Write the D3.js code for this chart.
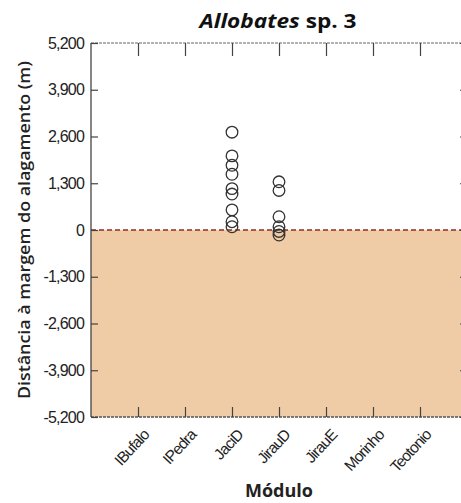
<!DOCTYPE html>
<html>
<head>
<meta charset="utf-8">
<script src="https://cdn.jsdelivr.net/npm/d3@7"></script>
<style>
  body { margin: 0; background: #fff; }
  svg { display: block; }
</style>
</head>
<body>
<svg id="chart"></svg>
<script>
// data
const modules = ["IBufalo", "IPedra", "JaciD", "JirauD", "JirauE", "Morinho", "Teotonio"]
const pointModules = ["JaciD", "JaciD", "JaciD", "JaciD", "JaciD", "JaciD", "JaciD", "JaciD", "JaciD",
                      "JirauD", "JirauD", "JirauD", "JirauD", "JirauD", "JirauD"]
const pointDistances = [2720, 2060, 1800, 1550, 1150, 1000, 560, 230, 90,
                        1340, 1100, 370, 90, -40, -140]
const yTicks = [-5200, -3900, -2600, -1300, 0, 1300, 2600, 3900, 5200]

// constants
const width = 461
const height = 503
const margin = {left: 91, top: 43, right: -6, bottom: 86}
const floodColour = "#efcca6"
const zeroColour = "#8e2b26"
const axisColour = "#444"
const tickFont = "Liberation Sans, Arial, sans-serif"
const labelFont = "Open Sans, Lato, sans-serif"

// plain hyphen for negatives, comma thousands
const fmt = d3.formatLocale({decimal: ".", thousands: ",", grouping: [3], currency: ["$", ""], minus: "-"}).format(",")

const svg = d3.select("#chart")
  .attr("width", width)
  .attr("height", height)

const x = d3.scaleLinear()
  .domain([0, modules.length + 1])
  .range([margin.left, width - margin.right])

const y = d3.scaleLinear()
  .domain([-5200, 5200])
  .range([height - margin.bottom, margin.top])

const x0 = x.range()[0], x1 = x.range()[1]
const yTop = y(5200), yBot = y(-5200)

// flooded area below zero
svg.append("rect")
  .attr("x", x0)
  .attr("y", y(0))
  .attr("width", x1 - x0)
  .attr("height", yBot - y(0))
  .attr("fill", floodColour)

// zero line
svg.append("line")
  .attr("x1", x0).attr("x2", x1)
  .attr("y1", y(0)).attr("y2", y(0))
  .attr("stroke", zeroColour)
  .attr("stroke-width", 1.6)
  .attr("stroke-dasharray", "5 3")

// frame
svg.append("line").attr("x1", x0).attr("x2", x1).attr("y1", yTop).attr("y2", yTop)
  .attr("stroke", "#666").attr("stroke-width", 1.2).attr("stroke-dasharray", "3 1")
svg.append("line").attr("x1", x0).attr("x2", x1).attr("y1", yBot).attr("y2", yBot)
  .attr("stroke", "#555").attr("stroke-width", 1.3).attr("stroke-dasharray", "3 1")
svg.append("line").attr("x1", x0).attr("x2", x0).attr("y1", yTop).attr("y2", yBot)
  .attr("stroke", axisColour).attr("stroke-width", 1.3)
svg.append("line").attr("x1", x1).attr("x2", x1).attr("y1", yTop).attr("y2", yBot)
  .attr("stroke", axisColour).attr("stroke-width", 1.3)

// y axis (inner ticks) on both sides
const yAxis = svg.append("g")
  .attr("transform", `translate(${x0},0)`)
  .call(d3.axisRight(y).tickValues(yTicks).tickSize(7).tickFormat(""))
yAxis.select(".domain").remove()
yAxis.selectAll("line").attr("stroke", axisColour).attr("stroke-width", 1.2)

const yAxisR = svg.append("g")
  .attr("transform", `translate(${x1},0)`)
  .call(d3.axisLeft(y).tickValues(yTicks).tickSize(7).tickFormat(""))
yAxisR.select(".domain").remove()
yAxisR.selectAll("line").attr("stroke", axisColour).attr("stroke-width", 1.2)

svg.append("g")
  .selectAll("text")
  .data(yTicks)
  .join("text")
    .attr("x", x0 - 7)
    .attr("y", d => y(d))
    .attr("dy", "0.35em")
    .attr("text-anchor", "end")
    .attr("font-family", tickFont)
    .attr("font-size", 16)
    .attr("letter-spacing", -0.8)
    .attr("fill", "#222")
    .text(d => fmt(d))

// x ticks, inward at top and bottom
const xTicks = modules.map((d, i) => i + 1)
const xAxisTop = svg.append("g")
  .attr("transform", `translate(0,${yTop})`)
  .call(d3.axisBottom(x).tickValues(xTicks).tickSize(13).tickFormat(""))
xAxisTop.select(".domain").remove()
xAxisTop.selectAll("line").attr("stroke", axisColour).attr("stroke-width", 1.2)

const xAxisBot = svg.append("g")
  .attr("transform", `translate(0,${yBot})`)
  .call(d3.axisTop(x).tickValues(xTicks).tickSize(10).tickFormat(""))
xAxisBot.select(".domain").remove()
xAxisBot.selectAll("line").attr("stroke", axisColour).attr("stroke-width", 1.2)

svg.append("g")
  .selectAll("text")
  .data(modules)
  .join("text")
    .attr("transform", (d, i) => `translate(${x(i + 1) + 8},${yBot + 15}) rotate(-47)`)
    .attr("text-anchor", "end")
    .attr("dy", "0.35em")
    .attr("font-family", tickFont)
    .attr("font-size", 15.5)
    .attr("letter-spacing", -0.9)
    .attr("fill", "#222")
    .text(d => d)

// points
const points = pointModules.map((m, i) => ({module: m, value: pointDistances[i]}))
svg.append("g")
  .selectAll("circle")
  .data(points)
  .join("circle")
    .attr("cx", d => x(modules.indexOf(d.module) + 1))
    .attr("cy", d => y(d.value))
    .attr("r", 5.8)
    .attr("fill", "none")
    .attr("stroke", "#333")
    .attr("stroke-width", 1.3)

// titles
const title = svg.append("text")
  .attr("x", 278)
  .attr("y", 28)
  .attr("text-anchor", "middle")
  .attr("font-family", labelFont)
  .attr("font-weight", "bold")
  .attr("font-size", 19)
  .attr("textLength", 157)
  .attr("lengthAdjust", "spacingAndGlyphs")
  .attr("fill", "#111")
title.append("tspan").attr("font-style", "italic").text("Allobates")
title.append("tspan").text(" sp. 3")

svg.append("text")
  .attr("transform", `translate(25,${y(0)}) rotate(-90)`)
  .attr("text-anchor", "middle")
  .attr("dy", "0.35em")
  .attr("font-family", labelFont)
  .attr("font-weight", 600)
  .attr("font-size", 15.5)
  .attr("textLength", 338)
  .attr("lengthAdjust", "spacingAndGlyphs")
  .attr("fill", "#222")
  .text("Distância à margem do alagamento (m)")

svg.append("text")
  .attr("x", 279)
  .attr("y", 497)
  .attr("text-anchor", "middle")
  .attr("font-family", labelFont)
  .attr("font-weight", "bold")
  .attr("font-size", 18)
  .attr("fill", "#222")
  .text("Módulo")
</script>
</body>
</html>
